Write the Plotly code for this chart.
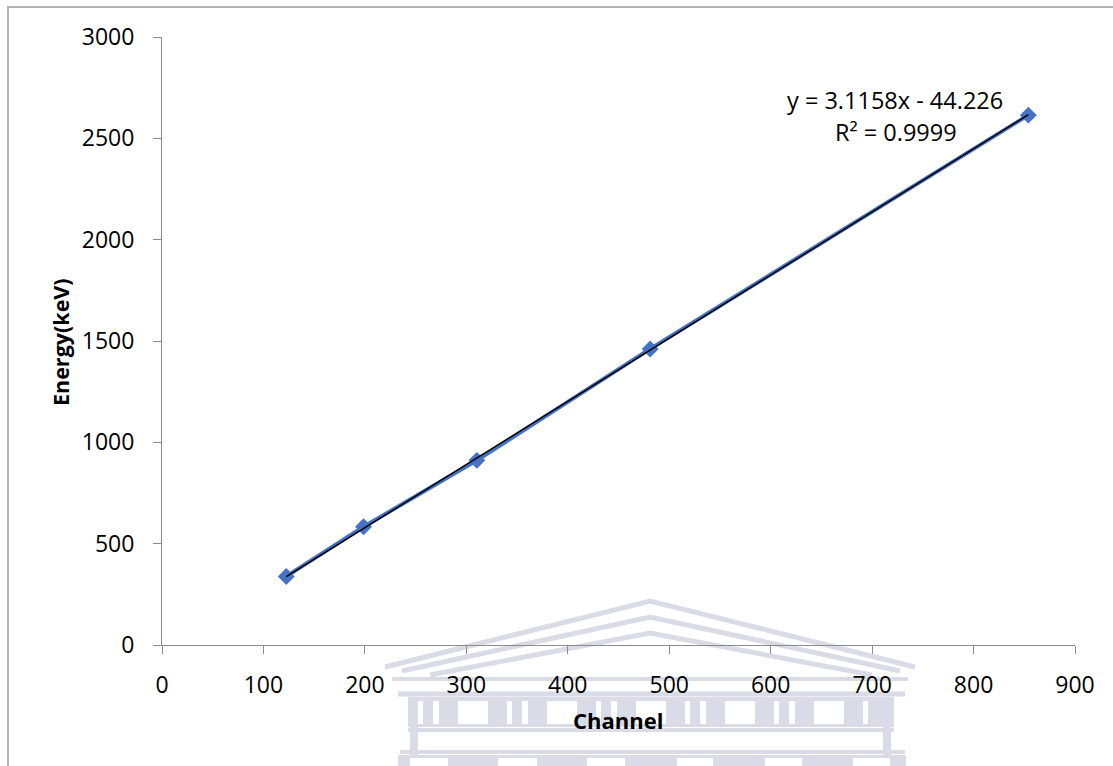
import plotly.graph_objects as go

# Calibration peaks: detector channel vs gamma-ray energy
channel = [122.5, 198.7, 310.4, 481.2, 854.0]
energy_kev = [338.3, 583.2, 911.2, 1460.8, 2614.5]

# Linear trendline coefficients
slope = 3.1158
intercept = -44.226
r_squared = 0.9999

x_ticks = [0, 100, 200, 300, 400, 500, 600, 700, 800, 900]
y_ticks = [0, 500, 1000, 1500, 2000, 2500, 3000]

W, H = 1113, 766
ML, MR, MT, MB = 162, 38, 37, 121
PW, PH = W - ML - MR, H - MT - MB


def px(x, y):
    """Pixel position on the page -> paper coordinates."""
    return (x - ML) / PW, (H - MB - y) / PH


fit_x = [min(channel), max(channel)]
fit_y = [slope * v + intercept for v in fit_x]

fig = go.Figure()
fig.add_trace(go.Scatter(
    x=channel, y=energy_kev, mode="lines+markers",
    line=dict(color="#4472C4", width=4),
    marker=dict(symbol="diamond", size=13, color="#4472C4"),
    showlegend=False, hoverinfo="x+y",
))
fig.add_trace(go.Scatter(
    x=fit_x, y=fit_y, mode="lines",
    line=dict(color="black", width=1.5),
    showlegend=False, hoverinfo="skip",
))

shapes = []

# outer chart frame
x0, y0 = px(8, 780)
x1, y1 = px(1125, 7)
shapes.append(dict(type="rect", xref="paper", yref="paper", x0=x0, y0=y0, x1=x1, y1=y1,
                   line=dict(color="#b4b4b4", width=2), fillcolor="rgba(0,0,0,0)", layer="below"))

# faint building emblem behind the lower axis
wm = "#d9dce6"


def path_line(points, width):
    d = "M " + " L ".join(f"{px(a, b)[0]},{px(a, b)[1]}" for a, b in points)
    shapes.append(dict(type="path", xref="paper", yref="paper", path=d,
                       line=dict(color=wm, width=width), layer="below"))


def box(xa, ya, xb, yb, color):
    p0 = px(xa, yb)
    p1 = px(xb, ya)
    shapes.append(dict(type="rect", xref="paper", yref="paper",
                       x0=p0[0], y0=p0[1], x1=p1[0], y1=p1[1],
                       line=dict(width=0), fillcolor=color, layer="below"))


path_line([(385, 667), (650, 601), (915, 667)], 5)
path_line([(402, 671), (650, 617), (900, 671)], 5)
path_line([(430, 675), (650, 633), (872, 675)], 5)
path_line([(392, 679), (908, 679)], 4)
path_line([(398, 694), (905, 694)], 5)

# frieze with windows
box(408, 697, 894, 727, wm)
for k in range(6):
    base = 418 + 89 * k
    for a, b in [(base, base + 5), (base + 15, base + 21), (base + 40, base + 70)]:
        if b <= 882:
            box(a, 701, b, 724, "white")
path_line([(408, 730), (894, 730)], 4)
box(410, 697, 418, 757, wm)
box(883, 697, 891, 757, wm)
path_line([(400, 752), (905, 752)], 4)

# base row
box(398, 755, 906, 770, wm)
for a, b in [(410, 448), (498, 537), (587, 625), (677, 713), (765, 802), (853, 890)]:
    box(a, 758, b, 770, "white")

font_main = "Open Sans, Liberation Sans, sans-serif"

annotations = [
    dict(xref="paper", yref="paper", x=px(895, 100)[0], y=px(895, 100)[1],
         text=f"y = {slope}x - {abs(intercept)}", showarrow=False,
         font=dict(size=23.5, color="black", family=font_main), xanchor="center", yanchor="middle"),
    dict(xref="paper", yref="paper", x=px(896, 132)[0], y=px(896, 132)[1],
         text=f"R² = {r_squared}", showarrow=False,
         font=dict(size=23.5, color="black", family=font_main), xanchor="center", yanchor="middle"),
    dict(xref="paper", yref="paper", x=px(618, 720)[0], y=px(618, 720)[1],
         text="<b>Channel</b>", showarrow=False,
         font=dict(size=22, color="black", family=font_main), xanchor="center", yanchor="middle"),
    dict(xref="paper", yref="paper", x=px(60, 342)[0], y=px(60, 342)[1],
         text="<b>Energy(keV)</b>", showarrow=False, textangle=-90,
         font=dict(size=21.5, color="black", family=font_main), xanchor="center", yanchor="middle"),
]

fig.update_layout(
    width=W, height=H,
    margin=dict(l=ML, r=MR, t=MT, b=MB, pad=0),
    paper_bgcolor="white", plot_bgcolor="rgba(0,0,0,0)",
    shapes=shapes, annotations=annotations,
    font=dict(family=font_main, size=23, color="black"),
)
fig.update_xaxes(
    range=[0, 900], tickvals=x_ticks, ticktext=[str(v) for v in x_ticks],
    showgrid=False, zeroline=False, showline=True, linecolor="#8c8c8c", linewidth=1,
    ticks="outside", ticklen=8, tickcolor="#8c8c8c", tickwidth=1,
    tickfont=dict(size=23, color="black"), ticklabelstandoff=11,
)
fig.update_yaxes(
    range=[0, 3000], tickvals=y_ticks, ticktext=[str(v) for v in y_ticks],
    showgrid=False, zeroline=False, showline=True, linecolor="#8c8c8c", linewidth=1,
    ticks="outside", ticklen=8, tickcolor="#8c8c8c", tickwidth=1,
    tickfont=dict(size=23, color="black"), ticklabelstandoff=14,
)

fig.write_html("out.html")
